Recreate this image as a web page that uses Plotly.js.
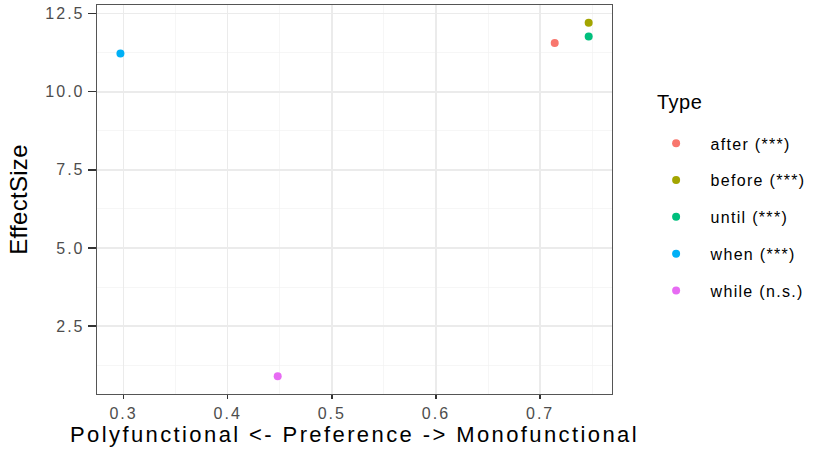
<!DOCTYPE html>
<html><head><meta charset="utf-8">
<script src="https://cdn.plot.ly/plotly-3.0.1.min.js"></script>
<style>
body{margin:0;padding:0;background:#fff}
.xtitle{letter-spacing:2.4px}
.ytitle{letter-spacing:0.3px}
.xtick text, .ytick text{letter-spacing:2px}
.legendtext{letter-spacing:1.3px}
.annotation-text{letter-spacing:0.5px}
</style>
</head><body>
<div id="chart" style="width:817px;height:455px"></div>
<script>
const types = ["after (***)", "before (***)", "until (***)", "when (***)", "while (n.s.)"];
const preference = [0.714, 0.7466, 0.7466, 0.297, 0.448];
const effectSize = [11.56, 12.21, 11.77, 11.23, 0.89];
const colors = ["#F8766D", "#A3A500", "#00BF7D", "#00B0F6", "#E76BF3"];
const xTicks = [0.3, 0.4, 0.5, 0.6, 0.7];
const yTicks = [2.5, 5.0, 7.5, 10.0, 12.5];
const legendTitle = "Type";

const traces = types.map((t, i) => ({
  type: "scatter", mode: "markers", name: t, legendgroup: t,
  x: [preference[i]], y: [effectSize[i]],
  marker: {color: colors[i], size: 8, line: {width: 0}},
  hoverinfo: "x+y+name"
}));

const font = "Liberation Sans, Arial, sans-serif";
const layout = {
  width: 817, height: 455,
  margin: {l: 97, r: 205, t: 5, b: 61},
  paper_bgcolor: "#fff", plot_bgcolor: "#fff",
  font: {family: font, color: "#000"},
  xaxis: {
    range: [0.2745, 0.769],
    tickvals: xTicks, ticktext: xTicks.map(v => v.toFixed(1)),
    ticks: "outside", ticklen: 4, tickwidth: 1.3, tickcolor: "#333",
    tickfont: {size: 16, color: "#4D4D4D", family: font},
    showgrid: true, gridcolor: "#EBEBEB", gridwidth: 1.4,
    minor: {dtick: 0.05, tick0: 0.25, showgrid: true, gridcolor: "#F2F2F2", gridwidth: 0.7, ticks: ""},
    zeroline: false, showline: true, linecolor: "#555", linewidth: 1.3, mirror: true,
    title: {text: "Polyfunctional <- Preference -> Monofunctional", font: {size: 22, color: "#000", family: font}, standoff: 5}
  },
  yaxis: {
    range: [0.324, 12.78],
    tickvals: yTicks, ticktext: yTicks.map(v => v.toFixed(1)),
    ticks: "outside", ticklen: 8, tickwidth: 1.3, tickcolor: "#333",
    tickfont: {size: 16, color: "#4D4D4D", family: font},
    showgrid: true, gridcolor: "#EBEBEB", gridwidth: 1.4,
    minor: {dtick: 1.25, tick0: 1.25, showgrid: true, gridcolor: "#F2F2F2", gridwidth: 0.7, ticks: ""},
    zeroline: false, showline: true, linecolor: "#555", linewidth: 1.3, mirror: true,
    title: {text: "EffectSize", font: {size: 24, color: "#000", family: font}, standoff: 11}
  },
  showlegend: true,
  legend: {
    x: 1.0575, xanchor: "left", y: 0.688, yanchor: "top",
    font: {size: 16, color: "#000", family: font},
    tracegroupgap: 13, itemwidth: 59, bgcolor: "rgba(0,0,0,0)"
  },
  annotations: [{
    text: legendTitle, xref: "paper", yref: "paper",
    x: (655 - 97) / 515, xanchor: "left",
    y: (394 - 102) / 389, yanchor: "middle",
    showarrow: false, font: {size: 20, color: "#000", family: font}
  }]
};
Plotly.newPlot("chart", traces, layout, {displayModeBar: false, staticPlot: true});
</script>
</body></html>
